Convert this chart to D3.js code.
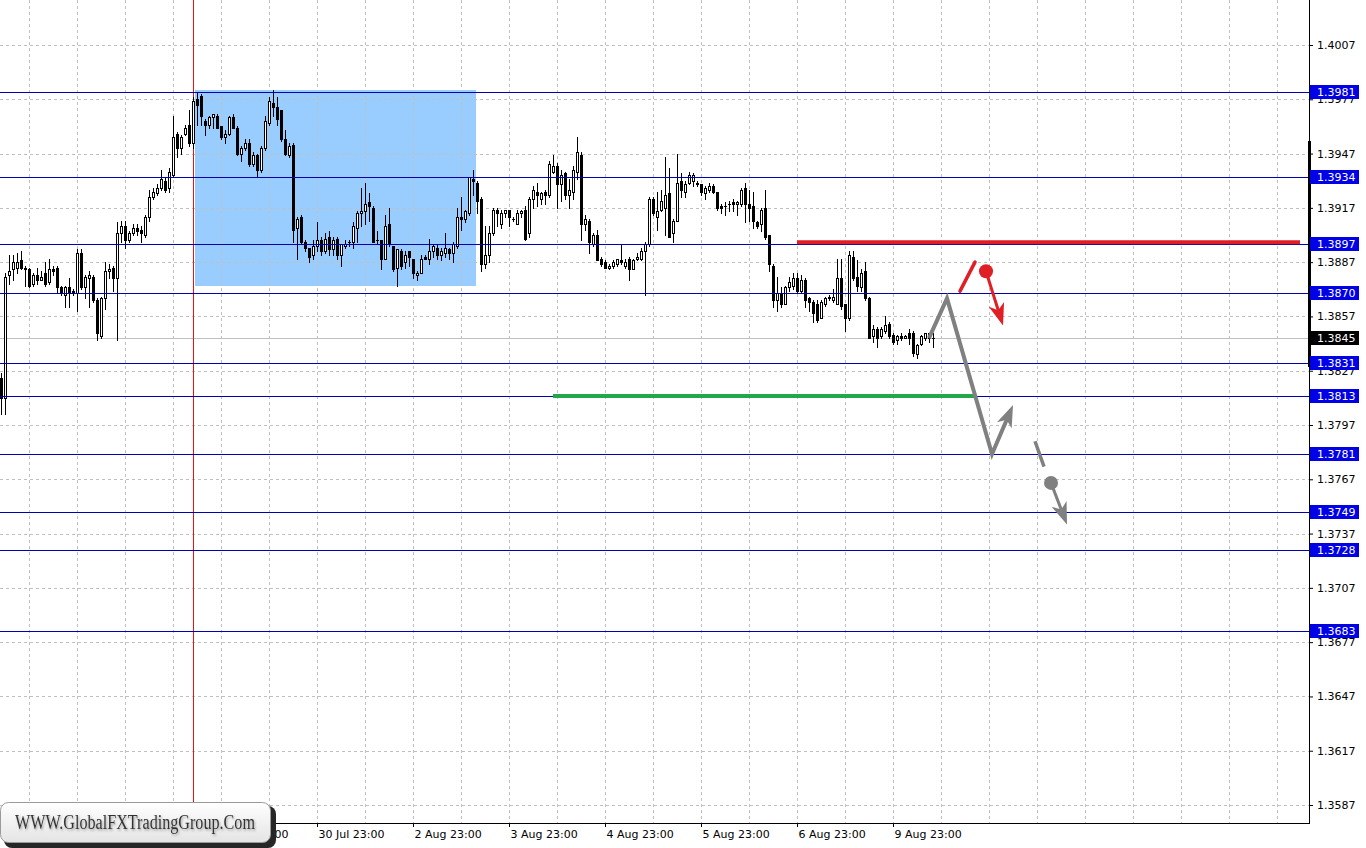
<!DOCTYPE html>
<html><head><meta charset="utf-8">
<script src="https://cdn.jsdelivr.net/npm/d3@7"></script>
<style>html,body{margin:0;padding:0;background:#fff;overflow:hidden}svg{display:block}</style>
</head><body><svg id="c" width="1366" height="848"></svg>
<script>
// ---- DATA (H1 candles, bar index 0..233) ----
const open = [
1.3823,1.3812,1.3880,1.3883,1.3884,1.3888,1.3884,1.3883,1.3875,1.3880,
1.3877,1.3881,1.3876,1.3883,1.3884,1.3873,1.3869,1.3873,1.3871,1.3870,
1.3892,1.3873,1.3878,1.3879,1.3866,1.3846,1.3867,1.3882,1.3884,1.3878,
1.3903,1.3907,1.3899,1.3903,1.3906,1.3905,1.3902,1.3912,1.3923,1.3925,
1.3928,1.3932,1.3928,1.3935,1.3958,1.3950,1.3958,1.3963,1.3953,1.3977,
1.3979,1.3965,1.3963,1.3967,1.3968,1.3962,1.3956,1.3958,1.3967,1.3961,
1.3947,1.3950,1.3953,1.3941,1.3946,1.3938,1.3950,1.3964,1.3975,1.3973,
1.3971,1.3955,1.3946,1.3952,1.3906,1.3912,1.3898,1.3895,1.3891,1.3896,
1.3899,1.3893,1.3901,1.3894,1.3900,1.3891,1.3896,1.3898,1.3898,1.3906,
1.3914,1.3915,1.3920,1.3917,1.3899,1.3899,1.3889,1.3908,1.3896,1.3884,
1.3893,1.3887,1.3893,1.3889,1.3880,1.3881,1.3890,1.3889,1.3893,1.3895,
1.3891,1.3892,1.3894,1.3892,1.3896,1.3912,1.3911,1.3914,1.3933,1.3931,
1.3922,1.3886,1.3891,1.3903,1.3916,1.3908,1.3914,1.3916,1.3911,1.3908,
1.3914,1.3916,1.3903,1.3922,1.3926,1.3922,1.3926,1.3924,1.3937,1.3940,
1.3930,1.3936,1.3924,1.3926,1.3937,1.3946,1.3908,1.3910,1.3897,1.3902,
1.3889,1.3887,1.3884,1.3885,1.3886,1.3888,1.3885,1.3889,1.3883,1.3889,
1.3889,1.3893,1.3897,1.3922,1.3912,1.3916,1.3917,1.3925,1.3903,1.3910,
1.3932,1.3926,1.3931,1.3932,1.3931,1.3930,1.3925,1.3927,1.3929,1.3926,
1.3918,1.3918,1.3919,1.3920,1.3919,1.3919,1.3928,1.3919,1.3918,1.3909,
1.3908,1.3917,1.3902,1.3885,1.3866,1.3870,1.3864,1.3873,1.3874,1.3878,
1.3871,1.3877,1.3867,1.3865,1.3864,1.3856,1.3864,1.3868,1.3866,1.3864,
1.3878,1.3864,1.3856,1.3890,1.3879,1.3873,1.3882,1.3867,1.3846,1.3850,
1.3846,1.3849,1.3853,1.3847,1.3844,1.3846,1.3845,1.3848,1.3848,1.3836,
1.3842,1.3845,1.3848,1.3845];
const high = [
1.3826,1.3881,1.3891,1.3891,1.3892,1.3893,1.3885,1.3884,1.3881,1.3884,
1.3882,1.3887,1.3889,1.3885,1.3885,1.3874,1.3874,1.3878,1.3872,1.3894,
1.3894,1.3880,1.3882,1.3880,1.3867,1.3868,1.3887,1.3886,1.3885,1.3909,
1.3910,1.3910,1.3904,1.3908,1.3908,1.3907,1.3913,1.3927,1.3928,1.3930,
1.3938,1.3934,1.3939,1.3968,1.3959,1.3957,1.3963,1.3971,1.3978,1.3981,
1.3980,1.3966,1.3968,1.3969,1.3969,1.3962,1.3960,1.3968,1.3969,1.3962,
1.3951,1.3955,1.3955,1.3948,1.3947,1.3951,1.3968,1.3978,1.3982,1.3978,
1.3971,1.3960,1.3953,1.3953,1.3912,1.3913,1.3899,1.3895,1.3899,1.3909,
1.3901,1.3903,1.3904,1.3901,1.3901,1.3897,1.3899,1.3899,1.3909,1.3915,
1.3928,1.3931,1.3925,1.3918,1.3904,1.3899,1.3913,1.3917,1.3896,1.3894,
1.3894,1.3893,1.3893,1.3889,1.3882,1.3891,1.3891,1.3900,1.3897,1.3897,
1.3895,1.3903,1.3895,1.3898,1.3917,1.3923,1.3916,1.3934,1.3938,1.3932,
1.3923,1.3907,1.3907,1.3917,1.3917,1.3916,1.3916,1.3916,1.3912,1.3916,
1.3916,1.3918,1.3923,1.3929,1.3931,1.3926,1.3927,1.3943,1.3946,1.3942,
1.3938,1.3937,1.3933,1.3940,1.3956,1.3948,1.3913,1.3911,1.3903,1.3905,
1.3890,1.3888,1.3886,1.3888,1.3889,1.3897,1.3889,1.3890,1.3889,1.3892,
1.3895,1.3898,1.3923,1.3923,1.3926,1.3927,1.3945,1.3939,1.3911,1.3947,
1.3936,1.3932,1.3937,1.3936,1.3932,1.3930,1.3929,1.3931,1.3930,1.3926,
1.3919,1.3920,1.3921,1.3922,1.3921,1.3928,1.3931,1.3927,1.3926,1.3910,
1.3917,1.3927,1.3902,1.3886,1.3879,1.3873,1.3874,1.3879,1.3881,1.3881,
1.3880,1.3878,1.3868,1.3866,1.3866,1.3866,1.3868,1.3869,1.3872,1.3889,
1.3889,1.3864,1.3893,1.3893,1.3888,1.3883,1.3887,1.3868,1.3852,1.3851,
1.3851,1.3857,1.3854,1.3848,1.3847,1.3848,1.3847,1.3850,1.3849,1.3842,
1.3847,1.3848,1.3848,1.3848];
const low = [
1.3803,1.3803,1.3875,1.3877,1.3881,1.3883,1.3874,1.3873,1.3874,1.3875,
1.3877,1.3874,1.3875,1.3880,1.3870,1.3869,1.3862,1.3862,1.3869,1.3860,
1.3872,1.3867,1.3862,1.3865,1.3844,1.3845,1.3861,1.3878,1.3871,1.3844,
1.3898,1.3895,1.3898,1.3902,1.3902,1.3898,1.3901,1.3910,1.3922,1.3924,
1.3927,1.3926,1.3926,1.3934,1.3945,1.3947,1.3957,1.3951,1.3950,1.3963,
1.3963,1.3957,1.3961,1.3961,1.3961,1.3955,1.3953,1.3957,1.3961,1.3946,
1.3943,1.3949,1.3940,1.3940,1.3934,1.3937,1.3949,1.3963,1.3968,1.3963,
1.3954,1.3946,1.3945,1.3898,1.3889,1.3897,1.3893,1.3887,1.3889,1.3893,
1.3891,1.3892,1.3891,1.3891,1.3889,1.3885,1.3895,1.3896,1.3895,1.3898,
1.3907,1.3908,1.3910,1.3898,1.3897,1.3883,1.3889,1.3896,1.3882,1.3874,
1.3883,1.3884,1.3885,1.3878,1.3877,1.3881,1.3889,1.3886,1.3890,1.3889,
1.3888,1.3890,1.3889,1.3887,1.3895,1.3905,1.3909,1.3913,1.3924,1.3914,
1.3882,1.3884,1.3887,1.3902,1.3907,1.3906,1.3912,1.3907,1.3910,1.3908,
1.3912,1.3899,1.3901,1.3917,1.3918,1.3919,1.3919,1.3923,1.3936,1.3917,
1.3921,1.3922,1.3917,1.3922,1.3933,1.3899,1.3905,1.3892,1.3896,1.3888,
1.3885,1.3884,1.3883,1.3884,1.3885,1.3886,1.3884,1.3877,1.3883,1.3888,
1.3888,1.3869,1.3896,1.3913,1.3905,1.3915,1.3902,1.3901,1.3898,1.3910,
1.3923,1.3923,1.3930,1.3929,1.3929,1.3924,1.3922,1.3926,1.3925,1.3916,
1.3914,1.3913,1.3915,1.3915,1.3913,1.3918,1.3909,1.3910,1.3906,1.3906,
1.3904,1.3900,1.3882,1.3862,1.3860,1.3862,1.3864,1.3871,1.3872,1.3870,
1.3870,1.3862,1.3860,1.3854,1.3854,1.3856,1.3863,1.3866,1.3865,1.3864,
1.3861,1.3849,1.3855,1.3877,1.3871,1.3871,1.3866,1.3845,1.3843,1.3840,
1.3845,1.3848,1.3845,1.3842,1.3842,1.3844,1.3845,1.3842,1.3835,1.3834,
1.3841,1.3844,1.3843,1.3840];
const close = [
1.3812,1.3879,1.3882,1.3887,1.3887,1.3884,1.3883,1.3874,1.3880,1.3877,
1.3879,1.3875,1.3883,1.3882,1.3873,1.3870,1.3873,1.3870,1.3870,1.3892,
1.3873,1.3879,1.3880,1.3866,1.3848,1.3867,1.3882,1.3883,1.3878,1.3903,
1.3907,1.3899,1.3903,1.3906,1.3904,1.3903,1.3912,1.3923,1.3926,1.3928,
1.3933,1.3927,1.3937,1.3956,1.3950,1.3956,1.3961,1.3953,1.3976,1.3974,
1.3968,1.3963,1.3967,1.3969,1.3961,1.3956,1.3958,1.3967,1.3961,1.3947,
1.3950,1.3953,1.3941,1.3946,1.3938,1.3950,1.3965,1.3976,1.3973,1.3966,
1.3955,1.3947,1.3951,1.3905,1.3911,1.3898,1.3895,1.3890,1.3896,1.3899,
1.3893,1.3900,1.3894,1.3899,1.3891,1.3897,1.3897,1.3898,1.3907,1.3914,
1.3915,1.3919,1.3918,1.3898,1.3899,1.3889,1.3907,1.3897,1.3883,1.3894,
1.3885,1.3891,1.3890,1.3881,1.3881,1.3889,1.3889,1.3893,1.3896,1.3891,
1.3893,1.3895,1.3892,1.3897,1.3912,1.3911,1.3915,1.3934,1.3932,1.3921,
1.3886,1.3891,1.3903,1.3916,1.3914,1.3914,1.3916,1.3912,1.3911,1.3914,
1.3915,1.3900,1.3922,1.3927,1.3924,1.3925,1.3924,1.3941,1.3940,1.3930,
1.3935,1.3924,1.3927,1.3938,1.3948,1.3908,1.3911,1.3898,1.3902,1.3888,
1.3886,1.3884,1.3885,1.3887,1.3889,1.3887,1.3887,1.3883,1.3888,1.3890,
1.3893,1.3897,1.3922,1.3914,1.3915,1.3921,1.3924,1.3901,1.3910,1.3931,
1.3927,1.3930,1.3935,1.3935,1.3930,1.3926,1.3928,1.3929,1.3926,1.3917,
1.3917,1.3918,1.3919,1.3919,1.3920,1.3927,1.3919,1.3917,1.3910,1.3907,
1.3916,1.3901,1.3886,1.3866,1.3870,1.3864,1.3873,1.3876,1.3878,1.3871,
1.3877,1.3866,1.3865,1.3859,1.3855,1.3865,1.3867,1.3867,1.3868,1.3878,
1.3863,1.3856,1.3891,1.3878,1.3874,1.3881,1.3867,1.3845,1.3850,1.3845,
1.3850,1.3852,1.3846,1.3843,1.3846,1.3845,1.3846,1.3845,1.3837,1.3841,
1.3846,1.3848,1.3845,1.3845];

const priceTicks = [1.4007,1.3977,1.3947,1.3917,1.3887,1.3857,1.3827,1.3797,1.3767,1.3737,1.3707,1.3677,1.3647,1.3617,1.3587];
const levels = [1.3981,1.3934,1.3897,1.3870,1.3831,1.3813,1.3781,1.3749,1.3728,1.3683];
const currentPrice = 1.3845;
// labels for bars 7 and 31 ("27 Jul 23:00", "28 Jul 23:00") sit fully under the logo
const timeLabels = ["29 Jul 23:00","30 Jul 23:00","2 Aug 23:00","3 Aug 23:00","4 Aug 23:00","5 Aug 23:00","6 Aug 23:00","9 Aug 23:00"];
const timeLabelBars = [55,79,103,127,151,175,199,223];
const gridBars = [7,19,31,43,55,67,79,91,103,115,127,139,151,163,175,187,199,211,223,235,247,259,271,283,295,307,319];
const markerBar = 48;
const zoneBars = [48.5, 118.75];
const zonePrices = [1.3982, 1.3874];
const resistance = {bars:[199, 324.75], price:1.3898};
const support = {bars:[138, 243.5], price:1.3813};
const forecastPath = [[232,1.3845],[236.5,1.3867],[247.75,1.3781],[253,1.3808]];
const redStroke = [[239.75,1.3871],[243.5,1.3887]];
const redArrow = [[246.25,1.3882],[250.5,1.3852]];
const grayStroke = [[258.5,1.3788],[260.75,1.3774]];
const grayArrow = [[262.5,1.3765],[266.5,1.3742]];
const axisRangeBar = [1.3954, 1.3829];

// ---- CHART ----
const W = 1366, H = 848, plotR = 1309, plotB = 823;
const svg = d3.select('#c');
const x = d3.scaleLinear().domain([0, 327]).range([1, 1309]);
const y = d3.scaleLinear().domain([1.3587, 1.4007]).range([805, 45]);
const px = v => Math.round(x(v));
const py = v => Math.round(y(v));
const FONT = '"DejaVu Sans", Tahoma, sans-serif';

svg.append('rect').attr('width', W).attr('height', H).attr('fill', '#fff');
const defs = svg.append('defs');
defs.append('clipPath').attr('id', 'plot').append('rect')
  .attr('x', 0).attr('y', 0).attr('width', plotR).attr('height', plotB);
const plot = svg.append('g').attr('clip-path', 'url(#plot)');

// zone rectangle
plot.append('rect')
  .attr('x', px(zoneBars[0])).attr('y', py(zonePrices[0]))
  .attr('width', px(zoneBars[1]) - px(zoneBars[0]))
  .attr('height', py(zonePrices[1]) - py(zonePrices[0]))
  .attr('fill', '#99ccff');

// grid
plot.append('g').selectAll('line').data(priceTicks).join('line')
  .attr('x1', 0).attr('x2', plotR)
  .attr('y1', d => py(d) + 0.5).attr('y2', d => py(d) + 0.5)
  .attr('stroke', '#c0c0c0').attr('stroke-dasharray', '3,3');
plot.append('g').selectAll('line').data(gridBars).join('line')
  .attr('x1', d => px(d) + 0.5).attr('x2', d => px(d) + 0.5)
  .attr('y1', 0).attr('y2', plotB)
  .attr('stroke', '#c0c0c0').attr('stroke-dasharray', '3,3');

// current price line
plot.append('line').attr('x1', 0).attr('x2', plotR)
  .attr('y1', py(currentPrice) + 0.5).attr('y2', py(currentPrice) + 0.5)
  .attr('stroke', '#c0c0c0');

// marker vertical line
plot.append('line').attr('x1', px(markerBar) + 0.5).attr('x2', px(markerBar) + 0.5)
  .attr('y1', 0).attr('y2', plotB).attr('stroke', '#ee1111');

// candles
const idx = d3.range(open.length);
const cg = plot.append('g');
cg.selectAll('.wick').data(idx).join('rect').attr('class', 'wick')
  .attr('x', i => px(i)).attr('y', i => py(high[i]))
  .attr('width', 1).attr('height', i => Math.max(1, py(low[i]) - py(high[i]) + 1))
  .attr('fill', '#000');
cg.selectAll('.body').data(idx).join('rect').attr('class', 'body')
  .attr('x', i => px(i) - 1)
  .attr('y', i => Math.min(py(open[i]), py(close[i])))
  .attr('width', 3)
  .attr('height', i => Math.abs(py(open[i]) - py(close[i])) + 1)
  .attr('fill', '#000');
cg.selectAll('.hollow').data(idx.filter(i => close[i] > open[i] && Math.abs(py(open[i]) - py(close[i])) >= 2)).join('rect')
  .attr('class', 'hollow')
  .attr('x', i => px(i))
  .attr('y', i => py(close[i]) + 1)
  .attr('width', 1)
  .attr('height', i => py(open[i]) - py(close[i]) - 1)
  .attr('fill', '#fff');

// level lines
plot.append('g').selectAll('line').data(levels).join('line')
  .attr('x1', 0).attr('x2', plotR)
  .attr('y1', d => py(d) + 0.5).attr('y2', d => py(d) + 0.5)
  .attr('stroke', '#0000b0');

// resistance / support
plot.append('line')
  .attr('x1', x(resistance.bars[0])).attr('x2', x(resistance.bars[1]))
  .attr('y1', y(resistance.price)).attr('y2', y(resistance.price))
  .attr('stroke', '#e01e26').attr('stroke-width', 4);
plot.append('line')
  .attr('x1', x(support.bars[0])).attr('x2', x(support.bars[1]))
  .attr('y1', y(support.price)).attr('y2', y(support.price))
  .attr('stroke', '#22a84a').attr('stroke-width', 4);

// forecast drawings
function head(g, p0, p1, color, len, hw, notch) {
  const dx = p1[0] - p0[0], dy = p1[1] - p0[1], L = Math.hypot(dx, dy);
  const ux = dx / L, uy = dy / L, nx = -uy, ny = ux;
  const bx = p1[0] - ux * len, by = p1[1] - uy * len;
  const mx = p1[0] - ux * (len - notch), my = p1[1] - uy * (len - notch);
  g.append('path')
    .attr('d', `M${p1[0]},${p1[1]}L${bx + nx * hw},${by + ny * hw}L${mx},${my}L${bx - nx * hw},${by - ny * hw}Z`)
    .attr('fill', color);
  return [mx, my];
}
const toPx = p => [x(p[0]), y(p[1])];
const fg = plot.append('g');
const fp = forecastPath.map(toPx);
const gEnd = (() => {
  const p0 = fp[2], p1 = fp[3];
  const dx = p1[0] - p0[0], dy = p1[1] - p0[1], L = Math.hypot(dx, dy);
  return [p1[0] - dx / L * 14, p1[1] - dy / L * 14];
})();
fg.append('path').attr('d', d3.line()([fp[0], fp[1], fp[2], gEnd]))
  .attr('fill', 'none').attr('stroke', '#808080').attr('stroke-width', 4)
  .attr('stroke-linejoin', 'miter');
head(fg, fp[2], fp[3], '#808080', 22, 8, 6);

const rs = redStroke.map(toPx);
fg.append('line').attr('x1', rs[0][0]).attr('y1', rs[0][1]).attr('x2', rs[1][0]).attr('y2', rs[1][1])
  .attr('stroke', '#e01e26').attr('stroke-width', 3.5).attr('stroke-linecap', 'round');
const ra = redArrow.map(toPx);
const rEnd = head(fg, ra[0], ra[1], '#e01e26', 22, 8, 6);
fg.append('line').attr('x1', ra[0][0]).attr('y1', ra[0][1]).attr('x2', rEnd[0]).attr('y2', rEnd[1])
  .attr('stroke', '#e01e26').attr('stroke-width', 3);
fg.append('circle').attr('cx', ra[0][0]).attr('cy', ra[0][1]).attr('r', 7).attr('fill', '#e01e26');

const gs = grayStroke.map(toPx);
fg.append('line').attr('x1', gs[0][0]).attr('y1', gs[0][1]).attr('x2', gs[1][0]).attr('y2', gs[1][1])
  .attr('stroke', '#808080').attr('stroke-width', 3.5);
const ga = grayArrow.map(toPx);
const gaEnd = head(fg, ga[0], ga[1], '#808080', 22, 8, 6);
fg.append('line').attr('x1', ga[0][0]).attr('y1', ga[0][1]).attr('x2', gaEnd[0]).attr('y2', gaEnd[1])
  .attr('stroke', '#808080').attr('stroke-width', 3);
fg.append('circle').attr('cx', ga[0][0]).attr('cy', ga[0][1]).attr('r', 7).attr('fill', '#808080');

// ---- axes ----
const yAxis = d3.axisRight(y).tickValues(priceTicks).tickFormat(d3.format('.4f')).tickSize(4).tickPadding(4);
const ya = svg.append('g').attr('transform', `translate(${plotR},0)`).call(yAxis);
ya.select('.domain').remove();
ya.selectAll('text').attr('font-family', FONT).attr('font-size', 11).attr('fill', '#000');
ya.selectAll('line').attr('stroke', '#000');

const xAxis = d3.axisBottom(x).tickValues(timeLabelBars).tickFormat((d, i) => timeLabels[i]).tickSize(4).tickPadding(3);
const xa = svg.append('g').attr('transform', `translate(0,${plotB})`).call(xAxis);
xa.select('.domain').remove();
xa.selectAll('text').attr('font-family', FONT).attr('font-size', 11).attr('fill', '#000')
  .attr('text-anchor', 'start').attr('x', 1);
xa.selectAll('line').attr('stroke', '#000');

// frame
svg.append('line').attr('x1', plotR + 0.5).attr('x2', plotR + 0.5).attr('y1', 0).attr('y2', plotB + 1).attr('stroke', '#000');
svg.append('line').attr('x1', 0).attr('x2', plotR + 1).attr('y1', plotB + 0.5).attr('y2', plotB + 0.5).attr('stroke', '#000');
svg.append('rect').attr('x', plotR - 1).attr('y', py(axisRangeBar[0]))
  .attr('width', 3).attr('height', py(axisRangeBar[1]) - py(axisRangeBar[0])).attr('fill', '#000');

// level labels
const lg = svg.append('g');
const lab = lg.selectAll('g').data(levels).join('g');
lab.append('rect').attr('x', plotR + 1).attr('y', d => py(d) - 7).attr('width', 49).attr('height', 14).attr('fill', '#0000e6');
lab.append('text').attr('x', plotR + 8).attr('y', d => py(d) + 0.5).attr('dy', '0.35em')
  .attr('font-family', FONT).attr('font-size', 11).attr('fill', '#fff').text(d3.format('.4f'));
lg.append('rect').attr('x', plotR + 1).attr('y', py(currentPrice) - 7).attr('width', 49).attr('height', 14).attr('fill', '#000');
lg.append('text').attr('x', plotR + 8).attr('y', py(currentPrice) + 0.5).attr('dy', '0.35em')
  .attr('font-family', FONT).attr('font-size', 11).attr('fill', '#fff').text(d3.format('.4f')(currentPrice));

// ---- logo ----
const grad = defs.append('linearGradient').attr('id', 'lg').attr('x1', 0).attr('y1', 0).attr('x2', 0).attr('y2', 1);
grad.append('stop').attr('offset', '0%').attr('stop-color', '#ffffff');
grad.append('stop').attr('offset', '100%').attr('stop-color', '#e4e4e4');
const flt = defs.append('filter').attr('id', 'ts').attr('x', '-5%').attr('y', '-30%').attr('width', '110%').attr('height', '160%');
flt.append('feDropShadow').attr('dx', 1).attr('dy', 1.5).attr('stdDeviation', 1).attr('flood-color', '#888').attr('flood-opacity', 0.8);
const logo = svg.append('g');
logo.append('rect').attr('x', 4).attr('y', 806).attr('width', 272).attr('height', 42).attr('rx', 8).attr('fill', '#262626');
logo.append('rect').attr('x', 0.5).attr('y', 802.5).attr('width', 270).attr('height', 40).attr('rx', 8)
  .attr('fill', 'url(#lg)').attr('stroke', '#9a9a9a');
logo.append('text').attr('x', 15).attr('y', 829).attr('font-family', '"Liberation Serif", serif')
  .attr('font-size', 20).attr('fill', '#333').attr('textLength', 240).attr('lengthAdjust', 'spacingAndGlyphs')
  .attr('filter', 'url(#ts)')
  .text('WWW.GlobalFXTradingGroup.Com');
</script></body></html>
